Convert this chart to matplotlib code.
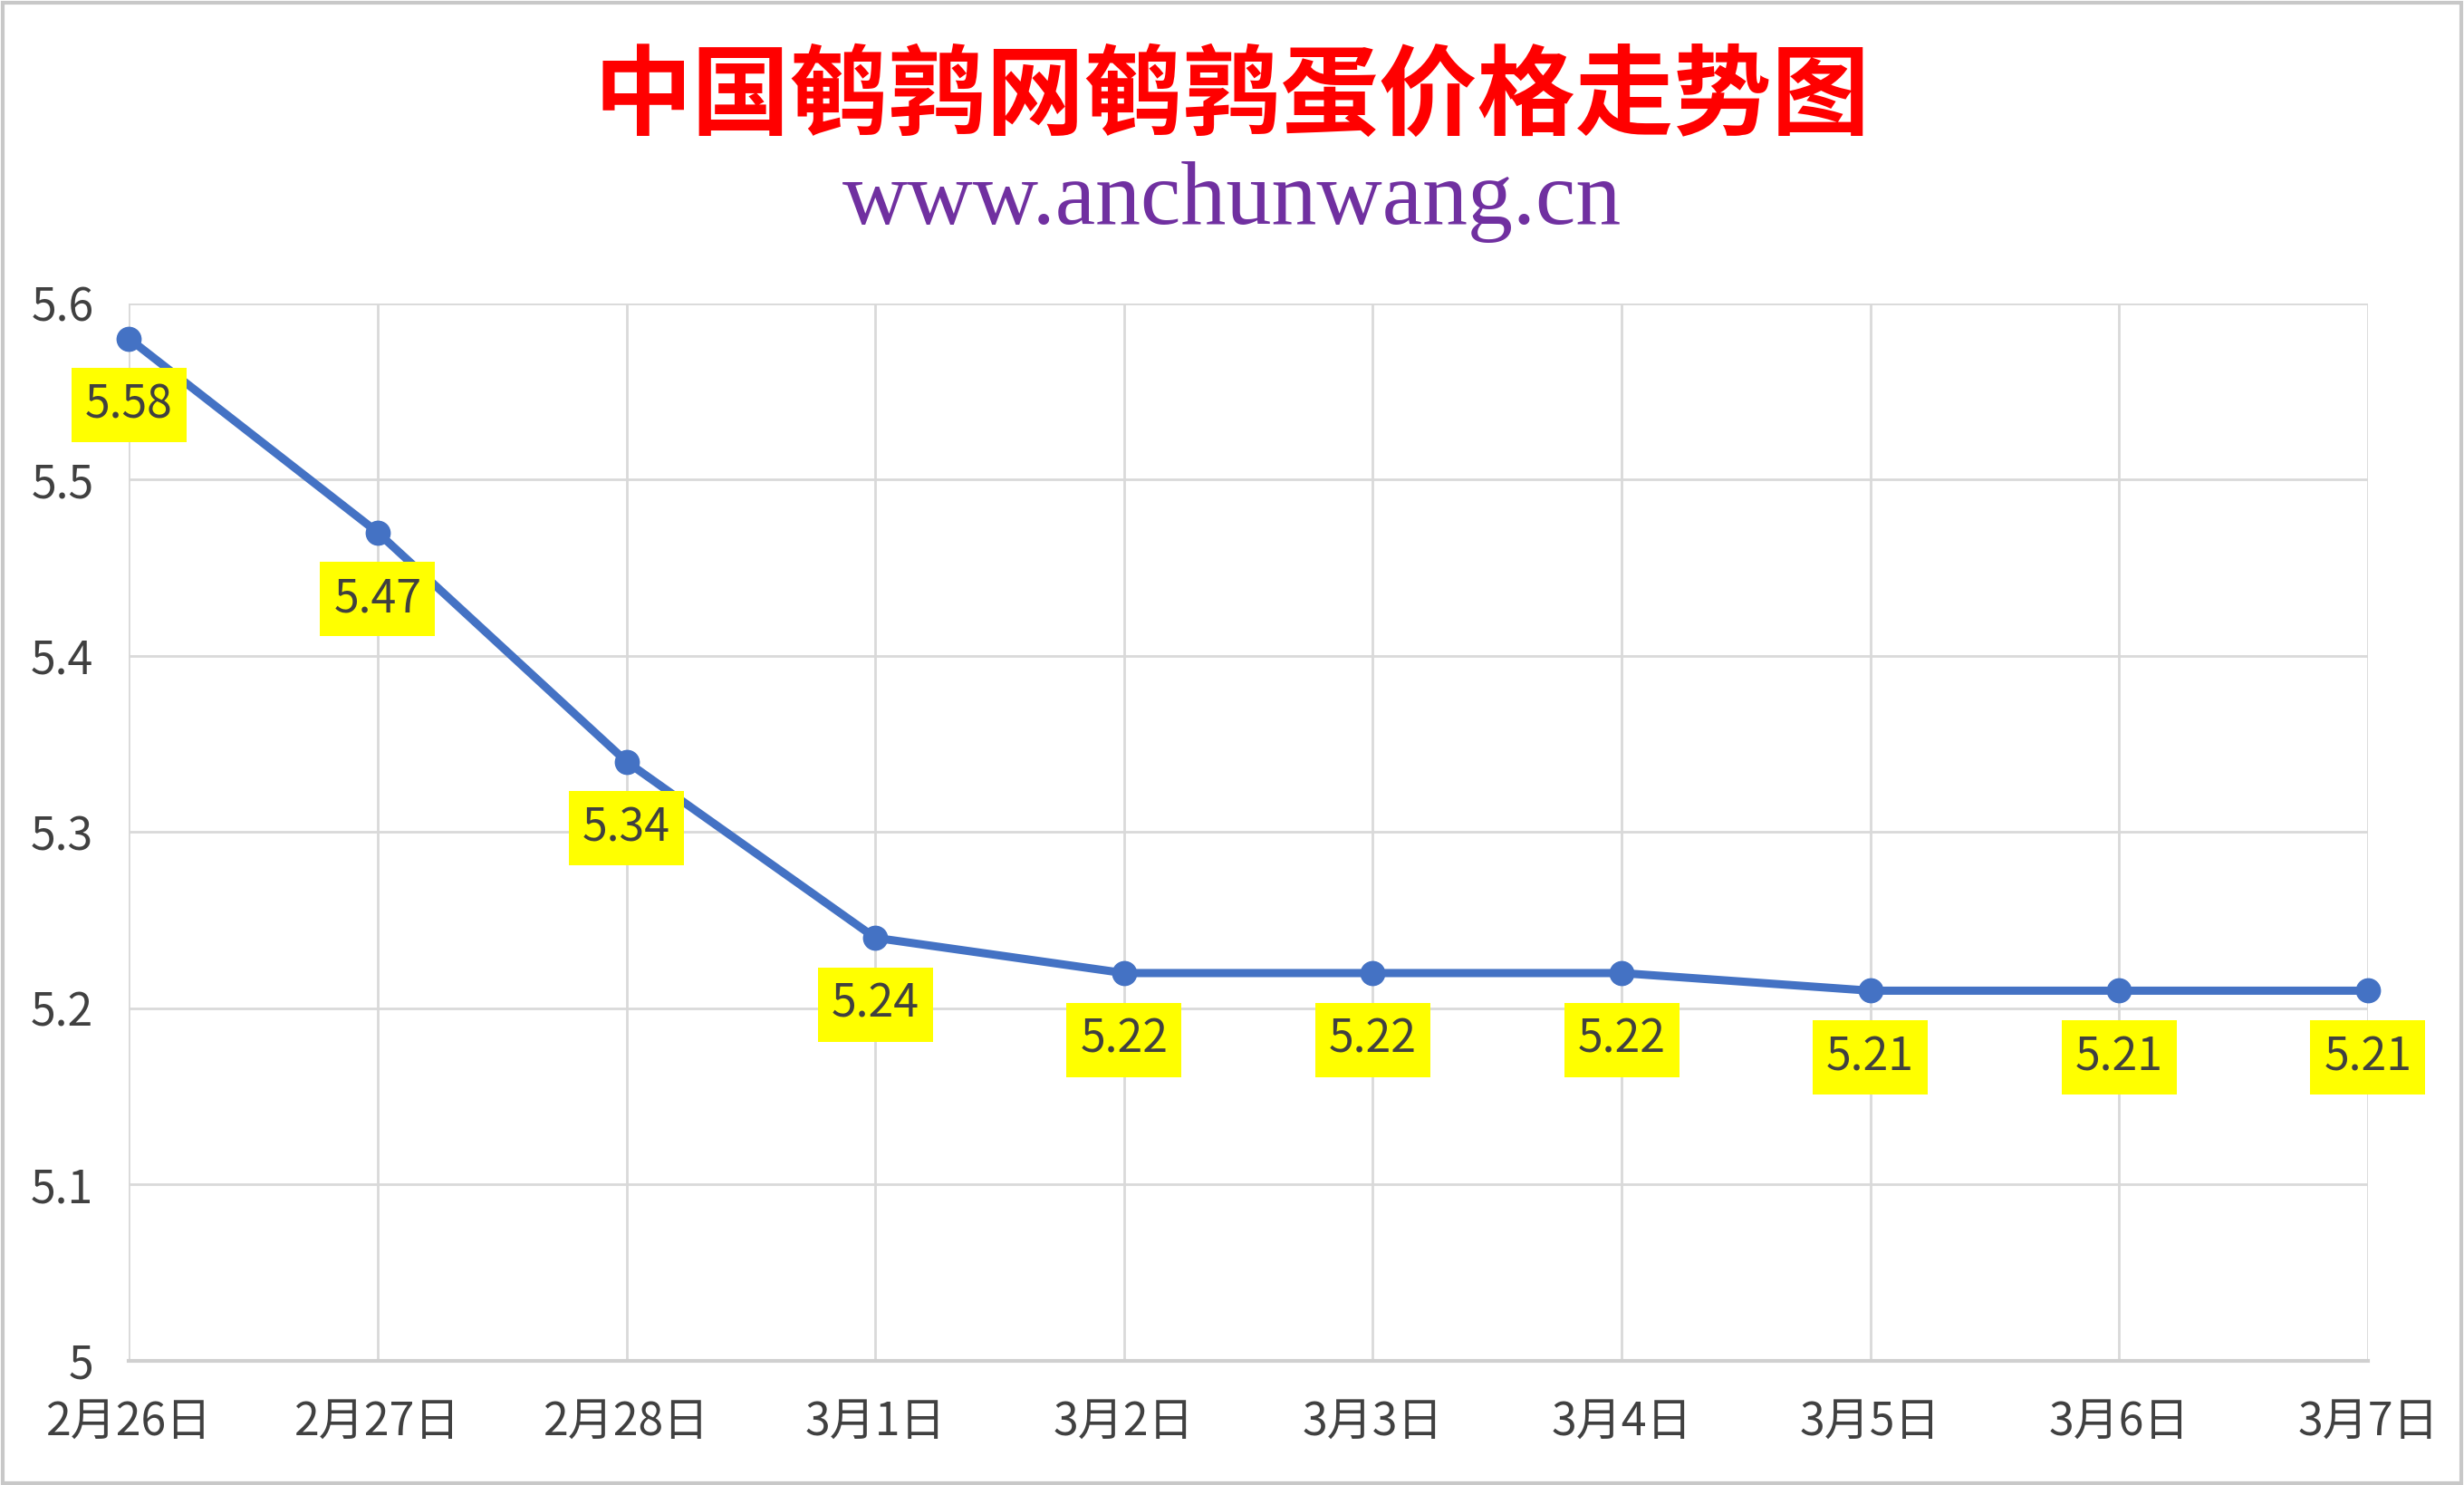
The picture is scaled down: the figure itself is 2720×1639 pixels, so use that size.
import matplotlib
matplotlib.use("Agg")
import matplotlib.pyplot as plt
from matplotlib.patches import Rectangle

plt.rcParams["font.family"] = ["Noto Sans CJK SC", "DejaVu Sans"]

dates = ["2月26日", "2月27日", "2月28日", "3月1日", "3月2日",
         "3月3日", "3月4日", "3月5日", "3月6日", "3月7日"]
prices = [5.58, 5.47, 5.34, 5.24, 5.22, 5.22, 5.22, 5.21, 5.21, 5.21]
y_ticks = [5.0, 5.1, 5.2, 5.3, 5.4, 5.5, 5.6]
y_labels = ["5", "5.1", "5.2", "5.3", "5.4", "5.5", "5.6"]

LINE = "#4472C4"
TEXT = "#404040"
GRID = "#D9D9D9"

fig = plt.figure(figsize=(27.2, 16.39), dpi=100)
fig.patches.append(Rectangle((0.001, 0.001), 0.998, 0.997, transform=fig.transFigure,
                             fill=False, ec="#C8C8C8", lw=3))

ax = fig.add_axes([0.0523, 0.0836, 0.9087, 0.7122])
x = list(range(len(dates)))
ax.plot(x, prices, color=LINE, lw=6.5, marker="o", ms=19, zorder=3, clip_on=False)

for xi, val in zip(x, prices):
    ax.annotate(f"{val:.2f}", (xi, val), xytext=(0, -53), textcoords="offset points",
                ha="center", va="center", fontsize=36, color=TEXT, zorder=4,
                bbox=dict(boxstyle="square,pad=0.3", fc="#FFFF00", ec="none"))

ax.set_xlim(0, len(dates) - 1)
ax.set_ylim(5.0, 5.6)
ax.set_xticks(x)
ax.set_xticklabels(dates)
ax.set_yticks(y_ticks)
ax.set_yticklabels(y_labels)
ax.tick_params(axis="both", length=0, labelsize=36, labelcolor=TEXT)
ax.tick_params(axis="x", pad=30)
ax.tick_params(axis="y", pad=28)
ax.grid(True, color=GRID, lw=2)
ax.set_axisbelow(True)
for side in ["top", "right", "left"]:
    ax.spines[side].set_visible(False)
ax.spines["bottom"].set_color("#D0D0D0")
ax.spines["bottom"].set_linewidth(3)

fig.text(0.5, 0.934, "中国鹌鹑网鹌鹑蛋价格走势图", ha="center", va="center",
         fontsize=78, color="#FF0000", fontweight="bold")
fig.text(0.5, 0.864, "www.anchunwang.cn", ha="center", va="center",
         fontsize=72, color="#7030A0", family="Liberation Serif")

fig.savefig("out.png", dpi=100)
